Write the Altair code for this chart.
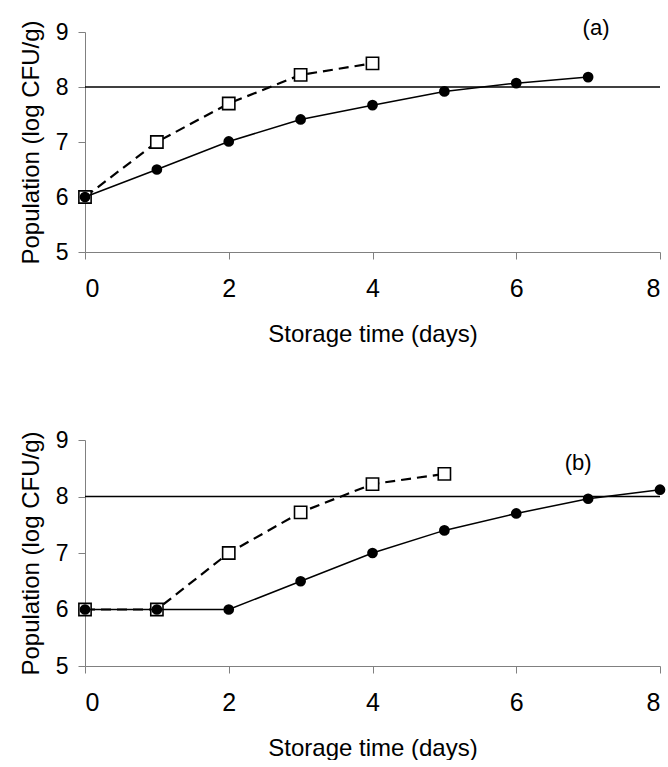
import altair as alt
import pandas as pd

# Panel (a)
days_a = [0, 1, 2, 3, 4, 5, 6, 7]
filled_a = [6.0, 6.5, 7.01, 7.41, 7.67, 7.92, 8.07, 8.18]
open_days_a = [0, 1, 2, 3, 4]
open_a = [6.0, 7.0, 7.7, 8.22, 8.43]

# Panel (b)
days_b = [0, 1, 2, 3, 4, 5, 6, 7, 8]
filled_b = [6.0, 6.0, 6.0, 6.5, 7.0, 7.4, 7.7, 7.96, 8.12]
open_days_b = [0, 1, 2, 3, 4, 5]
open_b = [6.0, 6.0, 7.0, 7.72, 8.22, 8.4]

limit = 8.0
x_ticks = [0, 2, 4, 6, 8]
y_ticks = [5, 6, 7, 8, 9]
FONT = "Liberation Sans"


def panel(days, filled, odays, opened, tag, tag_x, tag_y, h):
    df_f = pd.DataFrame({"day": days, "pop": filled})
    df_o = pd.DataFrame({"day": odays, "pop": opened})
    df_l = pd.DataFrame({"x0": [0], "x1": [8], "y": [limit]})
    df_t = pd.DataFrame({"x": [tag_x], "y": [tag_y], "t": [tag]})

    xs = alt.Scale(domain=[0, 8], nice=False)
    ys = alt.Scale(domain=[5, 9], nice=False)
    xax = alt.Axis(values=x_ticks, title="Storage time (days)", format="d")
    yax = alt.Axis(values=y_ticks, title="Population (log CFU/g)", format="d")

    x = alt.X("day:Q", scale=xs, axis=xax)
    y = alt.Y("pop:Q", scale=ys, axis=yax)

    rule = alt.Chart(df_l).mark_rule(color="black", strokeWidth=1.6).encode(
        x=alt.X("x0:Q", scale=xs, axis=xax), x2="x1:Q",
        y=alt.Y("y:Q", scale=ys, axis=yax))
    dash = alt.Chart(df_o).mark_line(color="black", strokeWidth=2.2,
                                      strokeDash=[10, 6]).encode(x=x, y=y)
    squares = alt.Chart(df_o).mark_point(shape="square", size=150, filled=True,
                                         fill="white", stroke="black",
                                         strokeWidth=1.6, opacity=1).encode(x=x, y=y)
    solid = alt.Chart(df_f).mark_line(color="black", strokeWidth=1.5).encode(x=x, y=y)
    dots = alt.Chart(df_f).mark_point(shape="circle", size=115, filled=True,
                                      color="black", opacity=1).encode(x=x, y=y)
    label = alt.Chart(df_t).mark_text(font=FONT, fontSize=22, color="black").encode(
        x=alt.X("x:Q", scale=xs, axis=xax), y=alt.Y("y:Q", scale=ys, axis=yax),
        text="t:N")

    return alt.layer(rule, dash, squares, solid, dots, label).properties(
        width=575, height=h)


top = panel(days_a, filled_a, open_days_a, open_a, "(a)", 7.11, 9.07, 220)
bottom = panel(days_b, filled_b, open_days_b, open_b, "(b)", 6.86, 8.59, 226)

chart = alt.vconcat(top, bottom, spacing=83).properties(
    padding={"left": 19, "top": 17, "right": 0, "bottom": 0},
    background="white",
).configure_view(stroke=None).configure_axis(
    grid=False,
    domainColor="#808080",
    domainWidth=1,
    tickColor="#808080",
    tickSize=7,
    labelFont=FONT,
    labelColor="black",
    titleFont=FONT,
    titleFontSize=24,
    titleFontWeight="normal",
    titleColor="black",
).configure_axisX(labelFontSize=25, labelPadding=17, titlePadding=21).configure_axisY(
    labelFontSize=23, labelPadding=10, titlePadding=12)

chart.save("out.html", embed_options={"renderer": "svg", "actions": False})
